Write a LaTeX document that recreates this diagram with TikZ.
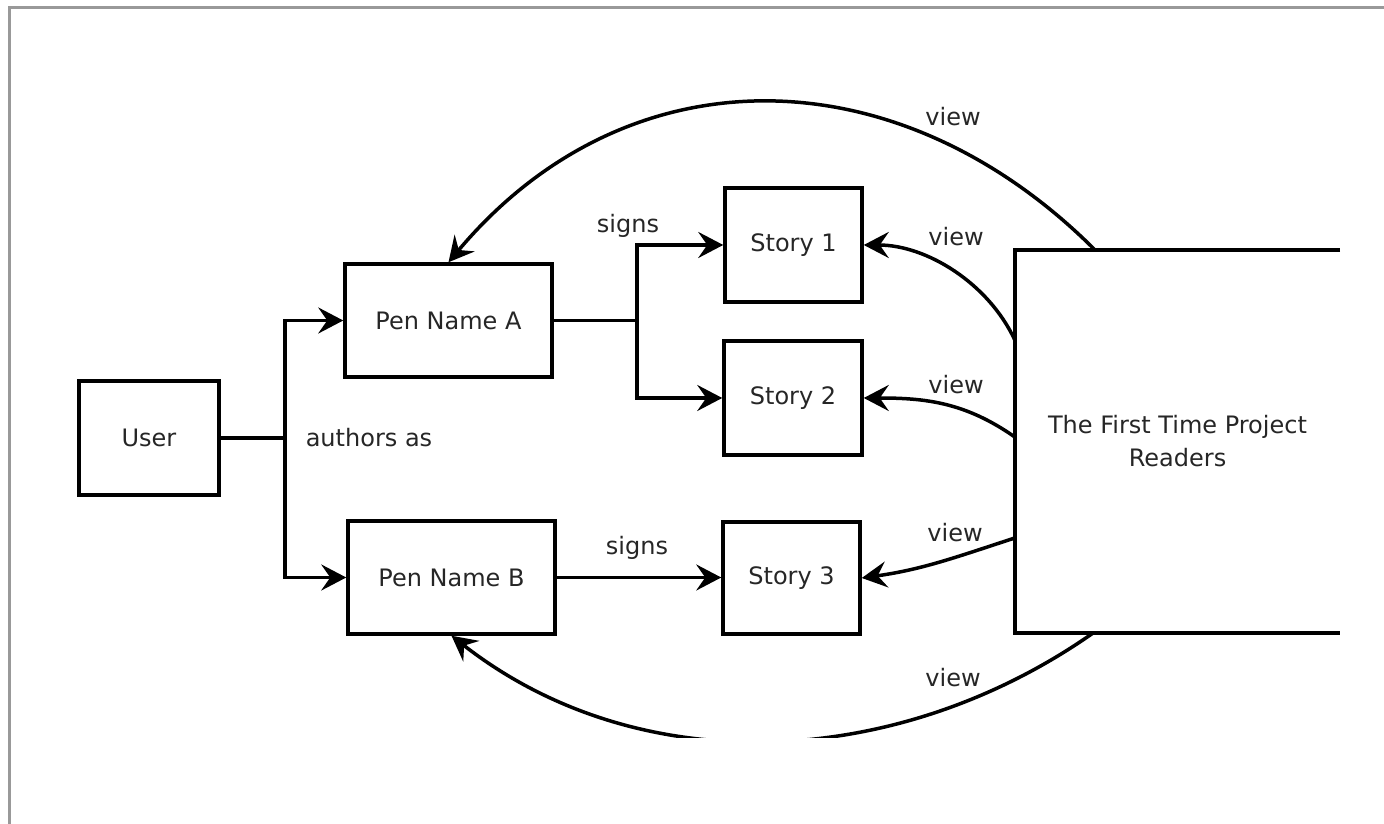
\documentclass[tikz,border=0pt]{standalone}
\usepackage{fontspec}
\setmainfont{DejaVu Sans}
\usetikzlibrary{arrows.meta}
\begin{document}
\begin{tikzpicture}[x=1pt,y=1pt,
  every node/.style={font=\fontsize{24pt}{33pt}\selectfont, text=black!85},
  box/.style={draw=black, line width=3.5pt, inner sep=0pt},
  conn/.style={draw=black, line width=3.5pt},
  arr/.style={conn, -{Stealth[length=25pt,width=26pt,inset=9pt]}},
  lbl/.style={inner sep=0pt},
  frameline/.style={draw=black!40, line width=3pt}]
\useasboundingbox (0,0) rectangle (1384,824);
\draw[frameline] (9,0) -- (9,816) -- (1384,816);

% boxes
\node[box, minimum width=140pt, minimum height=114pt] (user) at (149,386) {User};
\node[box, minimum width=207pt, minimum height=113pt] (pa) at (448.5,503.5) {Pen Name A};
\node[box, minimum width=207pt, minimum height=113pt] (pb) at (451.5,246.5) {Pen Name B};
\node[box, minimum width=137pt, minimum height=114pt] (s1) at (793.5,579) {Story 1};
\node[box, minimum width=138pt, minimum height=114pt] (s2) at (793,426) {Story 2};
\node[box, minimum width=137pt, minimum height=112pt] (s3) at (791.5,246) {Story 3};
\node[minimum width=325pt, minimum height=383pt, align=center, inner sep=0pt] (rd) at (1177.5,382.5) {The First Time Project\\Readers};
\draw[conn] (rd.north east) -- (rd.north west) -- (rd.south west) -- (rd.south east);

% authors as
\coordinate (j1) at (285,386);
\draw[conn] (user.east) -- (j1);
\draw[arr] (j1) |- (pa.west);
\draw[arr] (j1) |- (pb.west);

% signs
\coordinate (j2) at (637,503.5);
\draw[conn] (pa.east) -- (j2);
\draw[arr] (j2) |- (s1.west);
\draw[arr] (j2) |- (s2.west);
\draw[arr] (pb.east) -- (pb.east -| s3.west);

% view
\coordinate (r1) at ([yshift=101.5pt]rd.west);
\coordinate (r2) at ([yshift=4.5pt]rd.west);
\coordinate (r3) at ([yshift=-96.5pt]rd.west);
\draw[arr] (r1) to[out=115,in=0,looseness=0.9] (s1.east);
\draw[arr] (r2) to[out=145,in=0] (s2.east);
\draw[arr] (r3) to[out=198,in=8] (s3.east);

\coordinate (rt) at ([xshift=80pt]rd.north west);
\draw[arr] (rt) to[out=135,in=50,looseness=1.1] (pa.north);
\coordinate (rb) at ([xshift=78pt]rd.south west);
\begin{scope}
\clip (0,86) rectangle (1384,824);
\draw[arr] (rb) to[out=-145,in=-38,looseness=0.95] (pb.south);
\end{scope}

% labels
\node[lbl] (l1) at (369,386) {authors as};
\node[lbl] (l2) at (628,598) {signs};
\node[lbl] (l3) at (637,276) {signs};
\node[lbl] (l4) at (953,707) {view};
\node[lbl] (l5) at (956,587) {view};
\node[lbl] (l6) at (956,439) {view};
\node[lbl] (l7) at (955,291) {view};
\node[lbl] (l8) at (953,146) {view};
\end{tikzpicture}
\end{document}
